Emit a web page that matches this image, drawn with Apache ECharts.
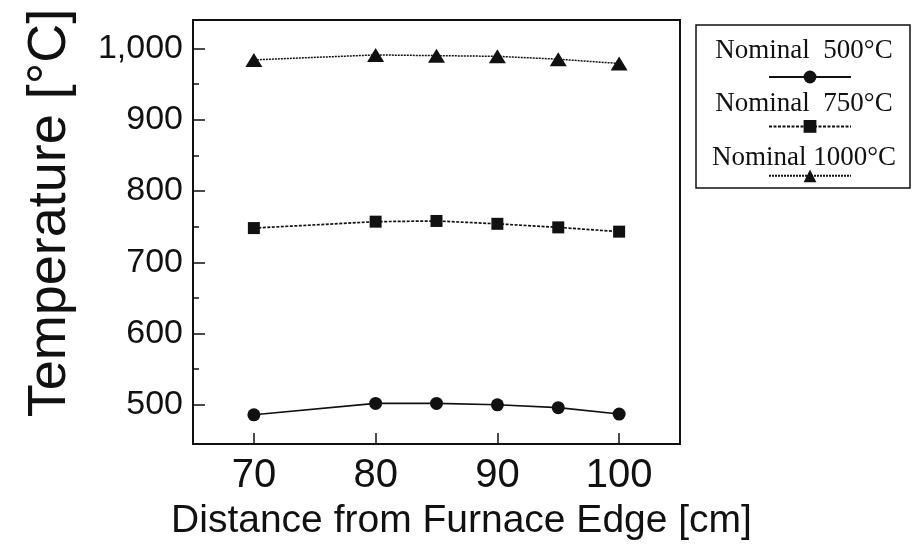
<!DOCTYPE html>
<html>
<head>
<meta charset="utf-8">
<script src="https://cdn.jsdelivr.net/npm/echarts@6/dist/echarts.min.js"></script>
<style>
  html, body { margin: 0; padding: 0; background: #fff; }
  #chart { width: 912px; height: 553px; }
</style>
</head>
<body>
<div id="chart"></div>
<script>
// Measured furnace temperature profile along the tube
const distances = [70, 80, 85, 90, 95, 100];
const temps500 = [486, 502, 502, 500, 496, 487];
const temps750 = [748, 757, 758, 754, 749, 743];
const temps1000 = [984, 991, 990, 989, 985, 979];
const seriesNames = ['Nominal  500°C', 'Nominal  750°C', 'Nominal 1000°C'];
const xTicks = [70, 80, 90, 100];
const yTicks = [500, 600, 700, 800, 900, 1000];
const yMinorTicks = [550, 650, 750, 850, 950];

const INK = '#111';
const SANS = "'Liberation Sans', Arial, Helvetica, sans-serif";
const SERIF = "'Liberation Serif', 'Times New Roman', serif";

const pairs = (ys) => distances.map((x, i) => [x, ys[i]]);

const chart = echarts.init(document.getElementById('chart'), null, { renderer: 'canvas' });

const xRange = { min: 65, max: 105 };
const yRange = { min: 445, max: 1040 };

chart.setOption({
  backgroundColor: '#fff',
  animation: false,
  grid: {
    left: 193, right: 232, top: 20, bottom: 109,
    show: true, borderColor: INK, borderWidth: 2, backgroundColor: 'transparent'
  },
  xAxis: {
    type: 'value',
    min: xRange.min, max: xRange.max,
    name: 'Distance from Furnace Edge [cm]',
    nameLocation: 'middle',
    nameGap: 58,
    nameTextStyle: { fontFamily: SANS, fontSize: 39, color: INK, padding: [0, 0, 0, 50] },
    axisLine: { show: true, lineStyle: { color: INK, width: 2 } },
    axisTick: { show: true, inside: true, length: 11, customValues: xTicks, lineStyle: { color: INK, width: 1.5 } },
    axisLabel: { show: true, customValues: xTicks, margin: 12, fontFamily: SANS, fontSize: 40, color: INK },
    splitLine: { show: false }
  },
  yAxis: [
    {
      type: 'value',
      min: yRange.min, max: yRange.max,
      name: 'Temperature [°C]',
      nameLocation: 'middle',
      nameGap: 116,
      nameTextStyle: { fontFamily: SANS, fontSize: 54, color: INK, padding: [0, 0, 0, 38] },
      axisLine: { show: true, lineStyle: { color: INK, width: 2 } },
      axisTick: { show: true, inside: true, length: 12, customValues: yTicks, lineStyle: { color: INK, width: 1.5 } },
      axisLabel: {
        show: true, customValues: yTicks, margin: 10,
        fontFamily: SANS, fontSize: 34, color: INK,
        formatter: (v) => v.toLocaleString('en-US')
      },
      splitLine: { show: false }
    },
    {
      type: 'value',
      position: 'left',
      min: yRange.min, max: yRange.max,
      axisLine: { show: false },
      axisTick: { show: true, inside: true, length: 6, customValues: yMinorTicks, lineStyle: { color: INK, width: 1.5 } },
      axisLabel: { show: false },
      splitLine: { show: false }
    }
  ],
  legend: {
    orient: 'vertical',
    left: 763, top: 64,
    itemWidth: 82, itemHeight: 16, itemGap: 35,
    selectedMode: false,
    formatter: () => '',
    data: seriesNames
  },
  graphic: [
    {
      type: 'rect', z: 1,
      shape: { x: 696, y: 25, width: 214, height: 163 },
      style: { fill: '#fff', stroke: INK, lineWidth: 1.5 }
    },
    ...seriesNames.map((name, i) => ({
      type: 'text', z: 10,
      x: 804, y: [51, 104, 158][i],
      style: { text: name, font: `27px ${SERIF}`, fill: INK, align: 'center', verticalAlign: 'middle' }
    }))
  ],
  series: [
    {
      name: seriesNames[0], type: 'line', data: pairs(temps500),
      symbol: 'circle', symbolSize: 13,
      lineStyle: { color: INK, width: 1.6, type: 'solid' },
      itemStyle: { color: INK }
    },
    {
      name: seriesNames[1], type: 'line', data: pairs(temps750),
      symbol: 'rect', symbolSize: 12,
      lineStyle: { color: INK, width: 1.7, type: [3, 1.5] },
      itemStyle: { color: INK }
    },
    {
      name: seriesNames[2], type: 'line', data: pairs(temps1000),
      symbol: 'triangle', symbolSize: [17, 14],
      lineStyle: { color: INK, width: 1.5, type: [2, 1] },
      itemStyle: { color: INK }
    }
  ]
});
</script>
</body>
</html>
